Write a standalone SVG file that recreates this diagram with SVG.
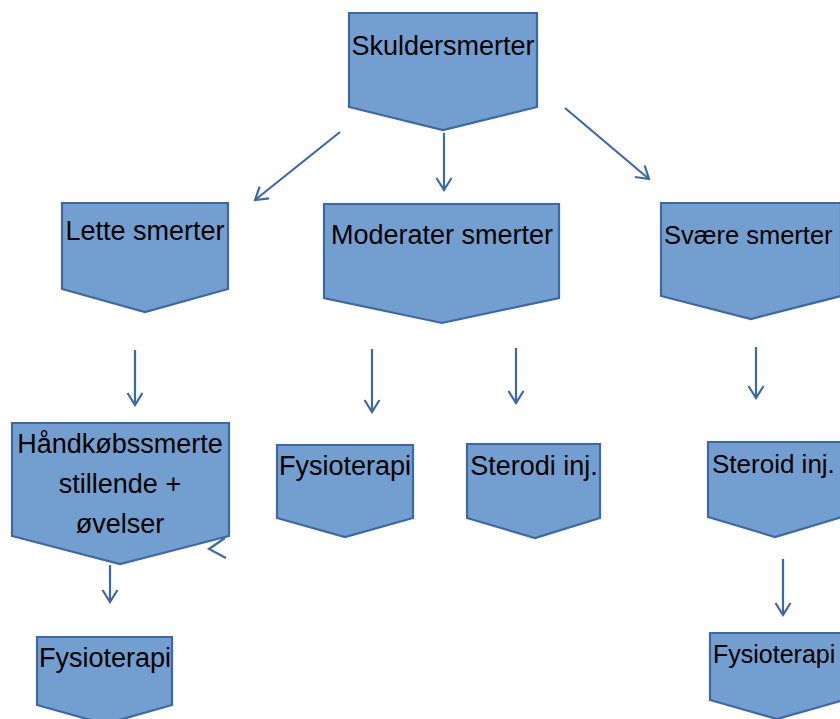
<svg xmlns="http://www.w3.org/2000/svg" width="840" height="719" viewBox="0 0 840 719">
<style>
.node{fill:#729FCF;stroke:#3D68A8;stroke-width:2.2;stroke-linejoin:miter}
.lbl{font-family:"Liberation Sans",Arial,sans-serif;font-size:27px;fill:#000;text-anchor:middle}
.edge{text-anchor:start}
.con{fill:none;stroke:#3D68A8;stroke-width:2.2}
</style>
<defs>
<marker id="ah" viewBox="-14 -9 16 18" markerWidth="16" markerHeight="18" refX="0" refY="0" orient="auto" markerUnits="userSpaceOnUse">
<polyline points="-12,-7.5 0,0 -12,7.5" fill="none" stroke="#3D68A8" stroke-width="2.2"/>
</marker>
</defs>
<rect width="840" height="719" fill="#fff"/>
<g id="n-skuldersmerter">
<polygon class="node" points="349,13 537,13 537,107 443,130 349,107"/>
<text class="lbl" x="443" y="55">Skuldersmerter</text>
</g>
<g id="n-lette">
<polygon class="node" points="62,203 228,203 228,289 145,312 62,289"/>
<text class="lbl" x="145" y="240">Lette smerter</text>
</g>
<g id="n-moderater">
<polygon class="node" points="324,204 559,204 559,298 442,323 324,298"/>
<text class="lbl" x="442" y="244">Moderater smerter</text>
</g>
<g id="n-svaere">
<polygon class="node" points="661,203 841,203 841,296 751,319 661,296"/>
<text class="lbl edge" x="664" y="244" style="font-size:25.5px">Svære smerter</text>
</g>
<g id="n-handkob">
<polygon class="node" points="12,423 229,423 229,536 120,564 12,536"/>
<text class="lbl" x="120" y="453">Håndkøbssmerte</text>
<text class="lbl" x="120" y="493">stillende +</text>
<text class="lbl" x="120" y="533">øvelser</text>
</g>
<g id="n-fysio-mid">
<polygon class="node" points="277,445 413,445 413,518 345,537 277,518"/>
<text class="lbl" x="345" y="475">Fysioterapi</text>
</g>
<g id="n-sterodi">
<polygon class="node" points="467,444 600,444 600,518 535,538 467,518"/>
<text class="lbl" x="534" y="475">Sterodi inj.</text>
</g>
<g id="n-steroid">
<polygon class="node" points="708,442 842,442 842,517 775,537 708,517"/>
<text class="lbl edge" x="712" y="473" style="font-size:26px">Steroid inj.</text>
</g>
<g id="n-fysio-left">
<polygon class="node" points="37,637 172,637 172,705 105,724 37,705"/>
<text class="lbl" x="105" y="667">Fysioterapi</text>
</g>
<g id="n-fysio-right">
<polygon class="node" points="710,633 844,633 844,700 777,719 710,700"/>
<text class="lbl edge" x="713" y="663" style="font-size:25px">Fysioterapi</text>
</g>
<g id="connectors">
<line class="con" x1="340" y1="132" x2="255" y2="200" marker-end="url(#ah)"/>
<line class="con" x1="444" y1="133" x2="444" y2="190" marker-end="url(#ah)"/>
<line class="con" x1="565" y1="108" x2="649" y2="179" marker-end="url(#ah)"/>
<line class="con" x1="135" y1="350" x2="135" y2="405" marker-end="url(#ah)"/>
<line class="con" x1="372" y1="349" x2="372" y2="412" marker-end="url(#ah)"/>
<line class="con" x1="516" y1="348" x2="516" y2="403" marker-end="url(#ah)"/>
<line class="con" x1="756" y1="347" x2="756" y2="398" marker-end="url(#ah)"/>
<line class="con" x1="110" y1="565" x2="110" y2="602" marker-end="url(#ah)"/>
<line class="con" x1="783" y1="559" x2="783" y2="615" marker-end="url(#ah)"/>
<polyline class="con" points="225,538 209,549 226,558"/>
</g>
</svg>
